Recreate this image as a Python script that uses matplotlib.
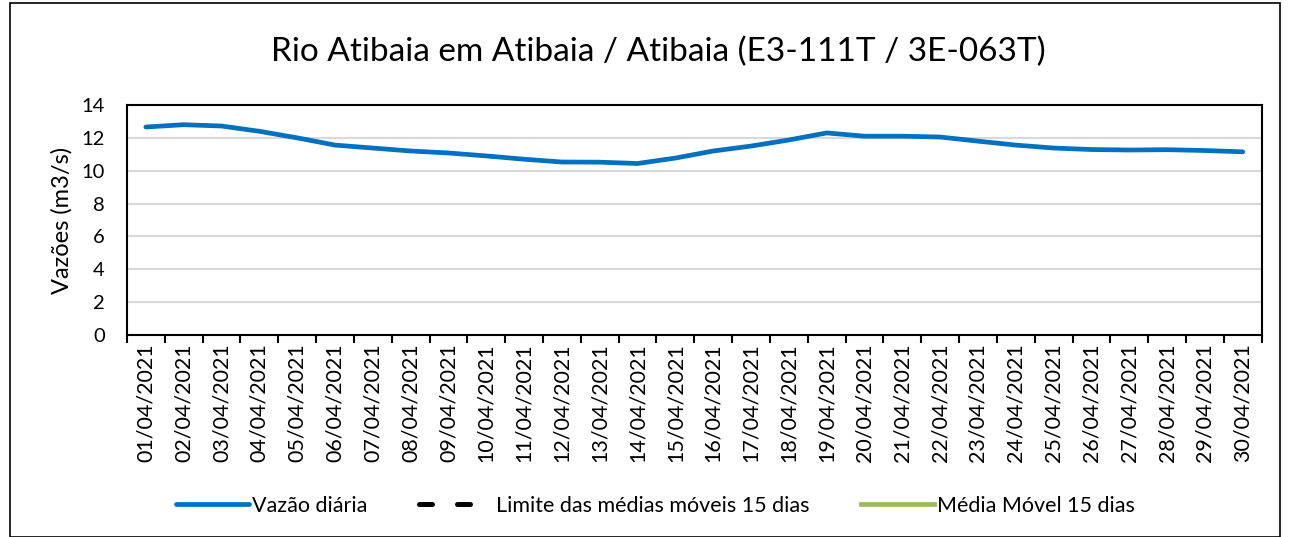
import numpy as np
import matplotlib
matplotlib.use("Agg")
import matplotlib.pyplot as plt
from matplotlib.patches import Rectangle

plt.rcParams["font.family"] = ["Lato", "DejaVu Sans"]

dates = ["%02d/04/2021" % d for d in range(1, 31)]
vazao = [12.66, 12.8, 12.72, 12.4, 12.0, 11.56, 11.38, 11.2, 11.08, 10.9,
         10.7, 10.53, 10.52, 10.44, 10.77, 11.2, 11.5, 11.87, 12.3, 12.1,
         12.1, 12.05, 11.8, 11.56, 11.38, 11.29, 11.26, 11.28, 11.23, 11.15]
limite = [np.nan] * 30
media = [np.nan] * 30

x = np.arange(len(dates))

fig = plt.figure(figsize=(12.9, 5.37), dpi=100)
ax = fig.add_axes([0.0984, 0.376, 0.8796, 0.4285])

ax.plot(x, vazao, color="#0070c0", lw=3.4, solid_capstyle="round", label="Vazão diária")
ax.plot(x, limite, color="black", lw=3.6, ls=(0, (2.6, 5.0)), dash_capstyle="round",
        label="Limite das médias móveis 15 dias")
ax.plot(x, media, color="#9bbb59", lw=3.4, label="Média Móvel 15 dias")

ax.set_xlim(-0.5, 29.5)
ax.set_ylim(0, 14)
ax.set_yticks(range(0, 15, 2))
ax.set_xticks(x)
ax.set_xticklabels(dates, rotation=90)
ax.set_xticks(np.arange(-0.5, 30, 1), minor=True)
ax.tick_params(axis="x", which="major", length=0, labelsize=15.5, pad=6)
ax.tick_params(axis="x", which="minor", length=6, width=1.5, direction="out")
ax.tick_params(axis="y", length=0, labelsize=14.5, pad=16)
ax.grid(axis="y", color="#d9d9d9", lw=1.5)
ax.set_axisbelow(True)
for s in ax.spines.values():
    s.set_color("black")
    s.set_linewidth(1.5)

ax.set_ylabel("Vazões (m3/s)", fontsize=17, labelpad=6)
fig.text(0.51, 0.903, "Rio Atibaia em Atibaia / Atibaia (E3-111T / 3E-063T)",
         ha="center", va="center", fontsize=24)

fig.legend(loc="center", bbox_to_anchor=(0.508, 0.058), ncol=3, frameon=False,
           fontsize=15.5, handlelength=3.4, handletextpad=0.15, columnspacing=2.4)

fig.patches.append(Rectangle((0.008, 0.0), 0.984, 0.995, transform=fig.transFigure,
                             fill=False, edgecolor="black", lw=1.2))

fig.savefig("out.png", dpi=100)
